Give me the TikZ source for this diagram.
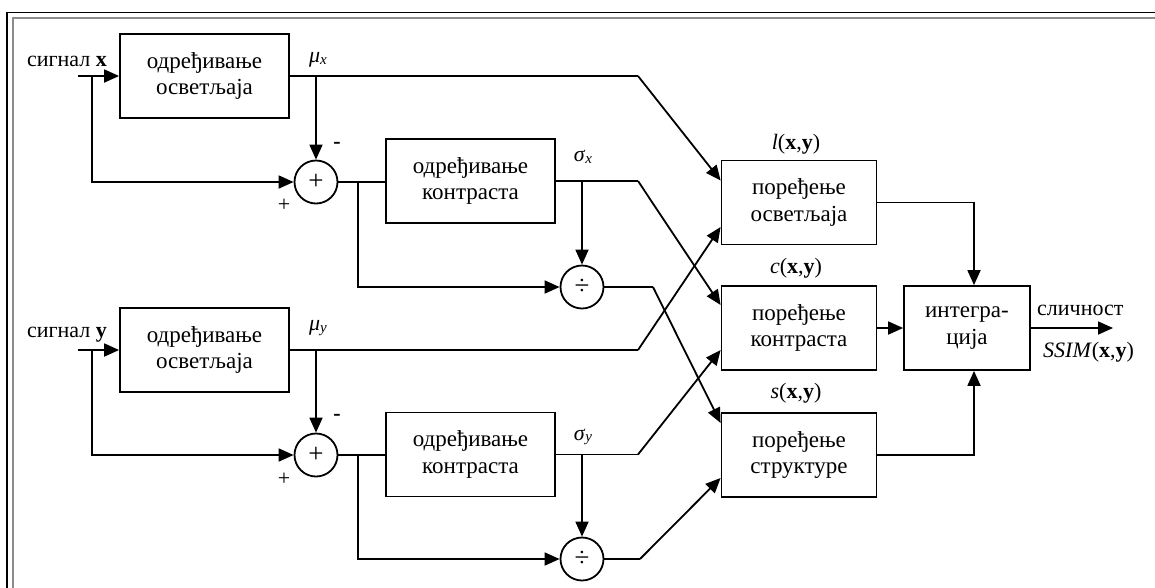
\documentclass[tikz,border=0pt]{standalone}
\usepackage{fontspec}
\setmainfont{Liberation Serif}
\usetikzlibrary{arrows.meta,calc}
\tikzset{
  blk/.style={draw, line width=1.8pt, minimum width=169pt, minimum height=84pt, align=center, inner sep=0pt, font=\fontsize{23}{26.5}\selectfont},
  cmp/.style={blk, minimum width=155pt},
  opc/.style={draw, circle, line width=1.8pt, minimum size=43pt, inner sep=0pt, font=\fontsize{27}{27}\selectfont},
  wire/.style={line width=1.8pt},
  arr/.style={line width=1.8pt, -{Triangle[length=15pt,width=13pt]}},
  lbl/.style={inner sep=0pt},
}
\newcommand{\mysub}[2]{\textit{#1}\raisebox{-0.15ex}{\fontsize{15}{15}\selectfont\textit{#2}}}
\begin{document}
\begin{tikzpicture}[x=1pt,y=-1pt,font=\fontsize{22}{26}\selectfont]
\useasboundingbox (0,0) rectangle (1155,587);
% frame
\draw[line width=1.4pt] (7,590) -- (7,12.5) -- (1160,12.5);
\draw[line width=2pt, black!45] (13,590) -- (13,17.7) -- (1160,17.7);

% blocks
\node[blk] (lum1) at (204.5,76) {одређивање\\осветљаја};
\node[opc] (sum1) at (316,182) {+};
\node[blk] (con1) at (470.5,181) {одређивање\\контраста};
\node[opc] (div1) at (582,287) {÷};
\node[blk] (lum2) at (204.5,350) {одређивање\\осветљаја};
\node[opc] (sum2) at (316,455) {+};
\node[blk] (con2) at (470.5,454.5) {одређивање\\контраста};
\node[opc] (div2) at (582,559) {÷};
\node[cmp] (lc) at (799,202.5) {поређење\\осветљаја};
\node[cmp] (cc) at (799,328) {поређење\\контраста};
\node[cmp] (sc) at (799,455) {поређење\\структуре};
\node[blk, minimum width=126pt] (integ) at (967,328) {интегра-\\ција};

% labels
\node[lbl] (sx) at (67,61) {сигнал \textbf{x}};
\node[lbl] (sy) at (67,335) {сигнал \textbf{y}};
\node[lbl] (mux) at (318,60) {\mysub{μ}{x}};
\node[lbl] (muy) at (318,328) {\mysub{μ}{y}};
\node[lbl] (sgx) at (583,157) {\mysub{σ}{x}};
\node[lbl] (sgy) at (583,437) {\mysub{σ}{y}};
\node[lbl] (m1) at (337,145) {\textbf{-}};
\node[lbl] (p1) at (284,205) {+};
\node[lbl] (m2) at (337,417) {\textbf{-}};
\node[lbl] (p2) at (284,479) {+};
\node[lbl] (ll) at (796,144) {\textit{l}(\textbf{x},\textbf{y})};
\node[lbl] (cl) at (796,268) {\textit{c}(\textbf{x},\textbf{y})};
\node[lbl] (sl) at (796,393) {\textit{s}(\textbf{x},\textbf{y})};
\node[lbl, anchor=west] (simt) at (1037,310) {сличност};
\node[lbl, anchor=west] (ssim) at (1043,352) {\textit{SSIM}(\textbf{x},\textbf{y})};

% coordinates
\coordinate (inx) at (78,76);
\coordinate (iny) at (78,350);
\coordinate (bx) at (92,76);
\coordinate (by) at (92,350);
\coordinate (out) at (1113,328);

% x path
\draw[arr] (inx) -- (lum1.west);
\draw[arr] (bx) |- (sum1.west);
\draw[wire] (lum1.east) -- (638,76) coordinate (k1);
\draw[arr] (k1) -- ([yshift=22pt]lc.west);
\draw[arr] (sum1 |- lum1.east) -- (sum1.north);
\draw[wire] (sum1.east) -- (con1.west |- sum1.east);
\draw[arr] (358,182) |- (div1.west);
\draw[wire] (con1.east) -- (638,181) coordinate (k2);
\draw[arr] (k2) -- ([yshift=23pt]cc.west);
\draw[arr] (div1 |- con1.east) -- (div1.north);
\draw[wire] (div1.east) -- (653,287) coordinate (k3);
\draw[arr] (k3) -- ([yshift=32pt]sc.west);

% y path
\draw[arr] (iny) -- (lum2.west);
\draw[arr] (by) |- (sum2.west);
\draw[wire] (lum2.east) -- (638,350) coordinate (k4);
\draw[arr] (k4) -- ([yshift=-24.5pt]lc.west);
\draw[arr] (sum2 |- lum2.east) -- (sum2.north);
\draw[wire] (sum2.east) -- (con2.west |- sum2.east);
\draw[arr] (358,455) |- (div2.west);
\draw[wire] (con2.east) -- (638,454.5) coordinate (k5);
\draw[arr] (k5) -- ([yshift=-22pt]cc.west);
\draw[arr] (div2 |- con2.east) -- (div2.north);
\draw[wire] (div2.east) -- (640,559) coordinate (k6);
\draw[arr] (k6) -- ([yshift=-23pt]sc.west);

% right side
\draw[arr] (lc.east) -| ([xshift=7pt]integ.north);
\draw[arr] (cc.east) -- (integ.west);
\draw[arr] (sc.east) -| ([xshift=7pt]integ.south);
\draw[arr] (integ.east) -- (out);
\end{tikzpicture}
\end{document}
